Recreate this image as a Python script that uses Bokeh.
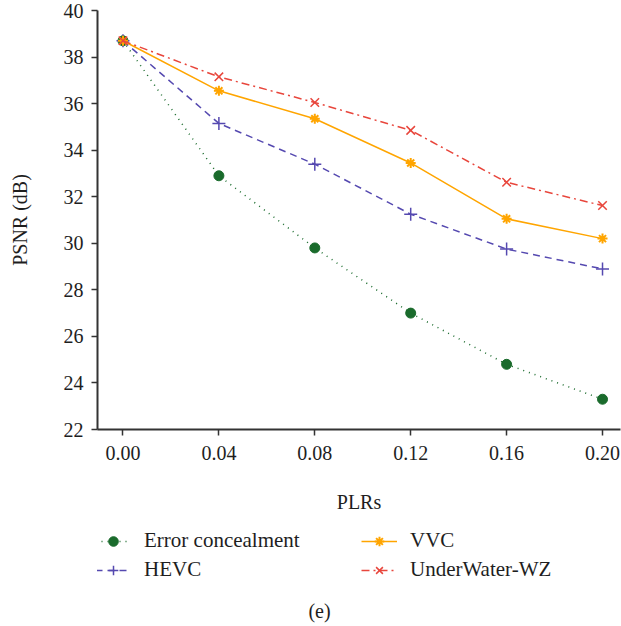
from bokeh.plotting import figure
from bokeh.layouts import column
from bokeh.models import Legend, LegendItem, Label, Range1d, FixedTicker, CustomJSTickFormatter
from bokeh.embed import file_html
from bokeh.resources import INLINE

plr = [0.00, 0.04, 0.08, 0.12, 0.16, 0.20]
error_concealment = [38.7, 32.9, 29.8, 27.0, 24.8, 23.3]
hevc = [38.7, 35.15, 33.4, 31.25, 29.75, 28.9]
vvc = [38.7, 36.55, 35.35, 33.45, 31.05, 30.2]
underwater_wz = [38.7, 37.15, 36.05, 34.85, 32.62, 31.62]
x_ticks = [0.00, 0.04, 0.08, 0.12, 0.16, 0.20]
y_ticks = [22, 24, 26, 28, 30, 32, 34, 36, 38, 40]

FONT = "Liberation Serif"
TXT = "#1e1e1e"

c_ec = "#1a6b2c"
c_hevc = "#5549b0"
c_vvc = "#ffa500"
c_uw = "#e8463c"

series = [
    ("Error concealment", error_concealment, c_ec, "1 5", "circle", 10, 1.0),
    ("HEVC", hevc, c_hevc, "7 5", "cross", 13, 1.5),
    ("VVC", vvc, c_vvc, "solid", "asterisk", 10, 2.0),
    ("UnderWater-WZ", underwater_wz, c_uw, "8 4 2 4", "x", 12, 1.5),
]

p = figure(width=621, height=515, output_backend="svg", toolbar_location=None,
           x_range=Range1d(-0.01063, 0.2075), y_range=Range1d(22, 40),
           min_border_top=10, min_border_left=97, min_border_right=1, min_border_bottom=84,
           x_axis_label="PLRs", y_axis_label="PSNR (dB)")
p.outline_line_color = None
p.grid.visible = False

for ax in (p.xaxis[0], p.yaxis[0]):
    ax.axis_line_color = "#333333"
    ax.axis_line_width = 2
    ax.major_tick_line_color = "#333333"
    ax.major_tick_line_width = 1.5
    ax.major_tick_out = 6
    ax.major_tick_in = 0
    ax.minor_tick_line_color = None
    ax.major_label_text_font = FONT
    ax.major_label_text_font_size = "20px"
    ax.major_label_text_color = TXT
    ax.axis_label_text_font = FONT
    ax.axis_label_text_font_size = "20px"
    ax.axis_label_text_font_style = "normal"
    ax.axis_label_text_color = TXT

p.xaxis.ticker = FixedTicker(ticks=x_ticks)
p.yaxis.ticker = FixedTicker(ticks=y_ticks)
p.xaxis.formatter = CustomJSTickFormatter(code="return tick.toFixed(2);")
p.xaxis.major_label_standoff = 10
p.xaxis.axis_label_standoff = 28
p.yaxis.major_label_standoff = 8
p.yaxis.axis_label_standoff = 30

# legend-only figure below the chart (data kept out of its visible range);
# its frame is aligned with the chart's frame, so positions are frame-relative
q = figure(width=621, height=111, output_backend="svg", toolbar_location=None,
           x_range=Range1d(10, 11), y_range=Range1d(100, 101),
           x_axis_type=None, y_axis_type=None,
           min_border=0, min_border_left=0, min_border_right=0, min_border_top=0, min_border_bottom=0)
q.outline_line_color = None
q.grid.visible = False

items = []
for name, vals, col, dash, mk, sz, mw in series:
    for fig in (p, q):
        ln = fig.line(plr, vals, line_color=col, line_width=1.5, line_dash=dash)
        if mk == "circle":
            sc = fig.scatter(plr, vals, marker=mk, size=sz, fill_color=col, line_color=col)
        else:
            sc = fig.scatter(plr, vals, marker=mk, size=sz, line_color=col, line_width=mw)
    items.append(LegendItem(label=name, renderers=[ln, sc]))

legend = Legend(items=items, nrows=2, orientation="vertical", location=(-2, 44))
legend.label_text_font = FONT
legend.label_text_font_size = "21px"
legend.label_text_color = TXT
legend.border_line_color = None
legend.background_fill_alpha = 0
legend.glyph_width = 36
legend.glyph_height = 24
legend.label_height = 24
legend.label_width = 213
legend.label_standoff = 13
legend.spacing = 4
legend.margin = 0
legend.padding = 2
q.add_layout(legend)

t = Label(x=222, y=16, x_units="screen", y_units="screen", text="(e)",
          text_align="center", text_baseline="middle",
          text_font=FONT, text_font_size="20px", text_color=TXT)
q.add_layout(t)

layout = column(p, q, spacing=0)
open("out.html", "w").write(file_html(layout, INLINE))
